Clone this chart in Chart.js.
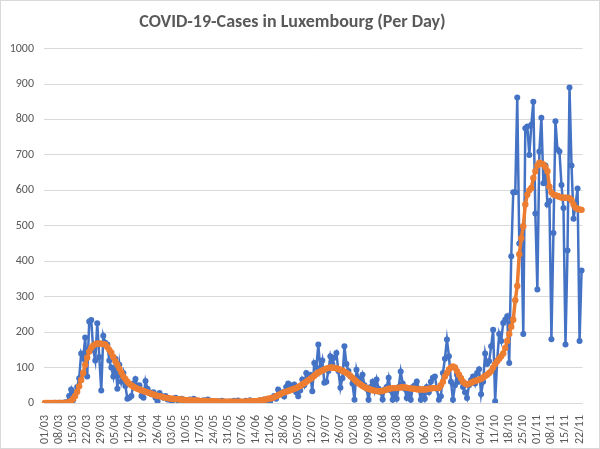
<!DOCTYPE html>
<html>
<head>
<meta charset="utf-8">
<script src="https://cdn.jsdelivr.net/npm/chart.js@4"></script>
<style>
  body { margin: 0; background: #fff; }
  #wrap { width: 600px; height: 449px; }
</style>
</head>
<body>
<div id="wrap"><canvas id="covidChart" width="600" height="449"></canvas></div>
<script>
// first day shown on the axis (Sunday 01/03/2020), one category per day
const startDay = new Date(2020, 2, 1);
const dayCount = 268;

// tick labels shown every 7 days
const tickLabels = ['01/03','08/03','15/03','22/03','29/03','05/04','12/04','19/04','26/04',
    '03/05','10/05','17/05','24/05','31/05','07/06','14/06','21/06','28/06','05/07','12/07',
    '19/07','26/07','02/08','09/08','16/08','23/08','30/08','06/09','13/09','20/09','27/09',
    '04/10','11/10','18/10','25/10','01/11','08/11','15/11','22/11'];

// new cases per day (one row per week, starting on Sunday)
const dailyCases = [
    0, 0, 0, 0, 0, 1, 0,
    1, 1, 0, 2, 2, 20, 38,
    8, 30, 45, 70, 140, 125, 185,
    75, 230, 234, 150, 120, 225, 130,
    35, 190, 170, 165, 120, 100, 75,
    125, 40, 108, 60, 85, 48, 12,
    15, 20, 55, 68, 45, 50, 20,
    15, 62, 40, 30, 25, 30, 15,
    5, 28, 20, 15, 20, 10, 12,
    3, 10, 15, 8, 10, 12, 5,
    2, 5, 10, 6, 12, 8, 4,
    3, 2, 8, 5, 10, 6, 3,
    1, 3, 5, 2, 6, 4, 2,
    1, 4, 3, 6, 5, 7, 2,
    1, 3, 6, 4, 8, 5, 3,
    2, 5, 8, 6, 10, 7, 4,
    3, 14, 20, 12, 38, 28, 30,
    18, 45, 55, 50, 40, 52, 30,
    19, 35, 66, 50, 85, 75, 80,
    33, 113, 100, 165, 95, 120, 57,
    60, 90, 132, 110, 128, 141, 90,
    43, 70, 160, 110, 90, 75, 55,
    9, 94, 70, 60, 80, 50, 40,
    9, 45, 60, 35, 66, 40, 30,
    10, 38, 45, 71, 35, 9, 30,
    12, 45, 89, 55, 40, 14, 30,
    9, 45, 50, 61, 40, 9, 35,
    12, 45, 30, 60, 71, 75, 40,
    9, 19, 85, 125, 179, 132, 60,
    9, 50, 80, 60, 70, 45, 30,
    14, 50, 65, 75, 55, 85, 95,
    25, 60, 140, 110, 118, 160, 207,
    5, 120, 195, 175, 226, 235, 245,
    113, 414, 595, 595, 862, 450, 495,
    195, 775, 780, 700, 785, 850, 535,
    320, 710, 805, 620, 670, 560, 570,
    180, 480, 795, 715, 710, 615, 550,
    165, 430, 890, 670, 520, 560, 605,
    175, 374
];

// smoothed curve (orange)
const averageCases = [
    0, 0, 0, 0, 0, 0, 0,
    0, 0, 0, 0, 1, 3, 6,
    12, 20, 32, 47, 65, 85, 108,
    128, 145, 156, 162, 166, 168, 168,
    167, 166, 165, 158, 150, 142, 130,
    118, 108, 97, 86, 75, 68, 60,
    54, 50, 46, 43, 40, 38, 36,
    34, 32, 30, 28, 26, 24, 22,
    20, 19, 18, 16, 15, 14, 13,
    12, 12, 11, 11, 10, 10, 9,
    8, 8, 8, 7, 7, 7, 7,
    6, 6, 6, 6, 6, 5, 5,
    5, 5, 4, 4, 4, 4, 4,
    4, 4, 4, 4, 4, 4, 4,
    4, 4, 4, 5, 5, 5, 5,
    5, 6, 7, 8, 9, 10, 12,
    13, 14, 16, 19, 22, 25, 28,
    30, 32, 34, 36, 38, 40, 42,
    45, 48, 52, 56, 60, 64, 68,
    72, 77, 82, 86, 89, 92, 95,
    97, 99, 100, 100, 99, 98, 96,
    94, 91, 88, 85, 81, 76, 71,
    66, 61, 56, 52, 48, 45, 42,
    40, 38, 36, 35, 34, 33, 33,
    34, 36, 38, 40, 41, 42, 42,
    42, 43, 44, 45, 44, 43, 42,
    41, 40, 40, 39, 38, 38, 38,
    38, 39, 40, 41, 42, 42, 42,
    42, 50, 60, 75, 85, 95, 100,
    103, 100, 90, 80, 70, 60, 55,
    52, 54, 57, 60, 62, 64, 66,
    68, 72, 76, 80, 85, 90, 100,
    110, 118, 125, 132, 140, 155, 175,
    195, 215, 235, 290, 330, 420, 465,
    499, 560, 588, 600, 607, 635, 654,
    670, 678, 676, 673, 665, 654, 610,
    595, 588, 586, 584, 582, 580, 579,
    579, 579, 578, 572, 560, 551, 548,
    546, 545
];

// day labels dd/mm for the category axis
const dayLabels = [];
for (let i = 0; i < dayCount; i++) {
    const d = new Date(startDay.getFullYear(), startDay.getMonth(), startDay.getDate() + i);
    dayLabels.push(String(d.getDate()).padStart(2, '0') + '/' + String(d.getMonth() + 1).padStart(2, '0'));
}

const fontStack = "Carlito, Calibri, Lato, 'Liberation Sans', sans-serif";
const textGrey = '#595959';

// white background + thin grey frame like the spreadsheet chart area
const frame = {
    id: 'frame',
    beforeDraw(chart) {
        const c = chart.ctx;
        c.save();
        c.fillStyle = '#fff';
        c.fillRect(0, 0, chart.width, chart.height);
        c.restore();
    },
    afterDraw(chart) {
        const c = chart.ctx;
        c.save();
        c.strokeStyle = '#d9d9d9';
        c.lineWidth = 1;
        c.strokeRect(0.5, 0.5, chart.width - 1, chart.height - 1);
        c.restore();
    }
};

const ctx = document.getElementById('covidChart').getContext('2d');
const chart = new Chart(ctx, {
    type: 'line',
    data: {
        labels: dayLabels,
        datasets: [{
            label: 'Cases per day',
            data: dailyCases,
            borderColor: '#4472C4',
            backgroundColor: '#4472C4',
            borderWidth: 2.5,
            pointRadius: 3,
            pointBorderWidth: 0,
            pointBackgroundColor: '#4472C4',
            tension: 0,
            order: 1
        }, {
            label: 'Average',
            data: averageCases,
            borderColor: '#ED7D31',
            backgroundColor: '#ED7D31',
            borderWidth: 3.5,
            pointRadius: 3.2,
            pointBorderWidth: 0,
            pointBackgroundColor: '#ED7D31',
            tension: 0,
            order: 0
        }]
    },
    options: {
        responsive: false,
        animation: false,
        devicePixelRatio: 1,
        layout: {
            padding: { left: 0, right: 15, top: 0, bottom: 0 }
        },
        plugins: {
            legend: { display: false },
            tooltip: { enabled: false },
            title: {
                display: true,
                text: 'COVID-19-Cases in Luxembourg (Per Day)',
                color: textGrey,
                font: { family: fontStack, size: 18, weight: 'bold' },
                padding: { top: 12, bottom: 15 }
            }
        },
        scales: {
            x: {
                offset: true,
                grid: { display: false },
                border: { color: '#d9d9d9', width: 1 },
                ticks: {
                    autoSkip: false,
                    maxRotation: 90,
                    minRotation: 90,
                    padding: 4,
                    color: textGrey,
                    font: { family: fontStack, size: 12 },
                    callback: function (val, idx) {
                        const lbl = this.getLabelForValue(val);
                        return tickLabels.includes(lbl) ? lbl : '';
                    }
                },
                afterFit: function (scale) {
                    scale.height = 46;
                }
            },
            y: {
                min: 0,
                max: 1000,
                grid: { color: '#d9d9d9', drawTicks: false },
                border: { display: false },
                ticks: {
                    stepSize: 100,
                    padding: 10,
                    color: textGrey,
                    font: { family: fontStack, size: 12 },
                    callback: (v) => String(v)
                },
                afterFit: function (scale) {
                    scale.width = 44;
                }
            }
        }
    },
    plugins: [frame]
});
</script>
</body>
</html>
